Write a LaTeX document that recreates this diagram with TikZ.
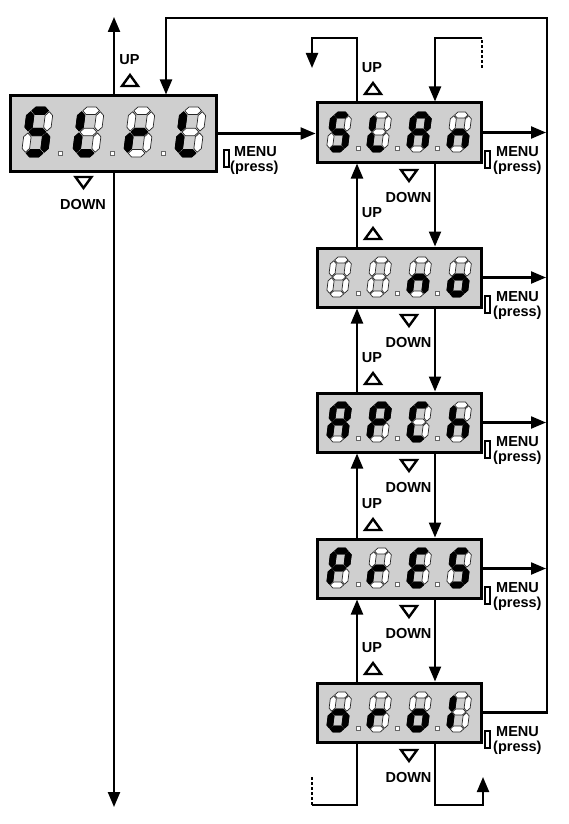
\documentclass[tikz,border=0pt]{standalone}
\usepackage{fontspec}
\newfontfamily\labfont{Liberation Sans}
\usetikzlibrary{arrows.meta}

\newcommand\hs[1]{(0.8,#1) -- (3.8,{#1+3}) -- (11.2,{#1+3}) -- (14.2,#1) -- (11.2,{#1-3}) -- (3.8,{#1-3}) -- cycle}
\newcommand\vs[3]{(#1,{#2+0.8}) -- ({#1+3},{#2+3.8}) -- ({#1+3},{#3-3.8}) -- (#1,{#3-0.8}) -- ({#1-3},{#3-3.8}) -- ({#1-3},{#2+3.8}) -- cycle}
\def\sga{\hs{34}}
\def\sgg{\hs{17}}
\def\sgd{\hs{0}}
\def\sgf{\vs{0}{17}{34}}
\def\sge{\vs{0}{0}{17}}
\def\sgb{\vs{15}{17}{34}}
\def\sgc{\vs{15}{0}{17}}
\def\sgx{}
\newcommand\sdigit[3]{%
  \edef\seglist{#3}%
  \begin{scope}[shift={#1}, x=1pt, y=1pt, scale=#2, xslant=0.13, shift={(3,3)}]
    \foreach \s in {a,b,c,d,e,f,g}{\path[segoff] \csname sg\s\endcsname;}
    \foreach \s in \seglist {\path[segon] \csname sg\s\endcsname;}
  \end{scope}}
\newcommand\uptri[2]{\draw[tri] ({#1-8},{#2+5}) -- ({#1+8},{#2+5}) -- ({#1},{#2-6}) -- cycle;}
\newcommand\dntri[2]{\draw[tri] ({#1-8},{#2-5}) -- ({#1+8},{#2-5}) -- ({#1},{#2+6}) -- cycle;}
\newcommand\dpt[2]{\draw[dp] ({#1-2},{#2-2}) rectangle ({#1+2},{#2+2});}

\tikzset{
  disp/.style={draw=black, line width=3pt, fill=black!19, inner sep=0pt, minimum width=164pt, minimum height=59pt},
  dispbig/.style={disp, minimum width=206pt, minimum height=75pt},
  conn/.style={line width=2.2pt, line join=miter},
  arr/.style={conn, -{Triangle[length=15pt,width=12pt]}},
  dashedconn/.style={conn, dash pattern=on 3pt off 2pt},
  segoff/.style={fill=white, draw=black!85, line width=0.7pt, line join=round},
  segon/.style={fill=black, draw=black, line width=0.7pt, line join=round},
  dp/.style={fill=white, draw=black!60, line width=0.6pt},
  lab/.style={font=\labfont\bfseries\fontsize{14.5}{14.5}\selectfont, inner sep=0pt},
  tri/.style={draw=black, line width=2.4pt, line join=miter},
  btn/.style={draw=black, line width=2pt, fill=white, minimum width=5pt, minimum height=17pt, inner sep=0pt},
}

\begin{document}
\begin{tikzpicture}[x=1pt, y=-1pt]
\useasboundingbox (0,0) rectangle (568,824);

% helper coordinates
\coordinate (upEnd) at (114,17);
\coordinate (dnEnd) at (114,807);
\coordinate (loopA) at (547,18);
\coordinate (loopB) at (166,18);
\coordinate (ux) at (357,0);
\coordinate (dx) at (435,0);
\coordinate (tl1) at (357,38);
\coordinate (tl2) at (312,38);
\coordinate (tl3) at (312,68);
\coordinate (tr1) at (482,68);
\coordinate (tr2) at (482,38);
\coordinate (tr3) at (435,38);
\coordinate (bl1) at (357,805);
\coordinate (bl2) at (312,805);
\coordinate (bl3) at (312,777);
\coordinate (br1) at (435,805);
\coordinate (br2) at (483,805);
\coordinate (br3) at (483,777);

% displays
\node[dispbig] (strt) at (113,133.5) {};
\node[disp] (stan) at (399,132.5) {};
\node[disp] (nono) at (399,277.5) {};
\node[disp] (apch) at (399,422.5) {};
\node[disp] (pres) at (399,568.5) {};
\node[disp] (orol) at (399,712.5) {};

% connectors
\draw[arr] (upEnd |- strt.north) -- (upEnd);
\draw[arr] (dnEnd |- strt.south) -- (dnEnd);
\draw[arr] (orol.east) -| (loopA) -- (loopB) -- (loopB |- strt.north);
\draw[arr] (strt.east) -- (strt.east -| stan.west);
\foreach \b in {stan,nono,apch,pres}{
  \draw[arr] (\b.east) -- ([xshift=-1pt]\b.east -| loopA);
}
\draw[arr] (ux |- nono.north) -- (ux |- stan.south);
\draw[arr] (ux |- apch.north) -- (ux |- nono.south);
\draw[arr] (ux |- pres.north) -- (ux |- apch.south);
\draw[arr] (ux |- orol.north) -- (ux |- pres.south);
\draw[arr] (dx |- stan.south) -- (dx |- nono.north);
\draw[arr] (dx |- nono.south) -- (dx |- apch.north);
\draw[arr] (dx |- apch.south) -- (dx |- pres.north);
\draw[arr] (dx |- pres.south) -- (dx |- orol.north);
\draw[arr] (ux |- stan.north) -- (tl1) -- (tl2) -- (tl3);
\draw[dashedconn] (tr1) -- (tr2);
\draw[arr] (tr2) -- (tr3) -- (dx |- stan.north);
\draw[conn] (ux |- orol.south) -- (bl1) -- (bl2);
\draw[dashedconn] (bl2) -- (bl3);
\draw[arr] (dx |- orol.south) -- (br1) -- (br2) -- (br3);

% Strt labels
\node[lab] (s-up) at (129.5,60) {UP};
\uptri{130}{81}
\dntri{83.5}{182}
\node[lab] (s-down) at (83,205) {DOWN};
\node[btn] (s-btn) at (226,158) {};
\node[lab, anchor=west] (s-menu) at (234,152) {MENU};
\node[lab, anchor=west] (s-press) at (230,168) {(press)};

% labels for right column
\foreach \b/\T in {stan/103, nono/248, apch/393, pres/539, orol/683}{
  \node[btn] (\b-btn) at (487.5,\T+56) {};
  \node[lab, anchor=west] (\b-menu) at (496,\T+49) {MENU};
  \node[lab, anchor=west] (\b-press) at (493,\T+65) {(press)};
  \node[lab] (\b-up) at (372,\T-35.5) {UP};
  \uptri{373}{\T-14}
  \dntri{409}{\T+72}
  \node[lab] (\b-down) at (408.5,\T+94.5) {DOWN};
}

% digits Strt
\sdigit{(21,157)}{1.25}{a,f,g,c,d}
\sdigit{(72,157)}{1.25}{f,e,d}
\sdigit{(123,157)}{1.25}{e,g}
\sdigit{(174,157)}{1.25}{f,e,d}
\dpt{60}{153}\dpt{112}{153}\dpt{163}{153}

% right digits
\foreach \T/\da/\db/\dc/\dd in {
  103/{a,f,g,c,d}/{f,e,d}/{a,b,c,e,f,g}/{c,e,g},
  248/{x}/{x}/{c,e,g}/{c,d,e,g},
  393/{a,b,c,e,f,g}/{a,b,e,f,g}/{a,d,e,f}/{c,e,f,g},
  539/{a,b,e,f,g}/{e,g}/{a,d,e,f,g}/{a,f,g,c,d},
  683/{c,d,e,g}/{e,g}/{c,d,e,g}/{f,e}}{
  \sdigit{(326,\T+49)}{1}{\da}
  \sdigit{(366,\T+49)}{1}{\db}
  \sdigit{(406,\T+49)}{1}{\dc}
  \sdigit{(446,\T+49)}{1}{\dd}
  \dpt{358}{\T+45}\dpt{397}{\T+45}\dpt{437}{\T+45}
}
\end{tikzpicture}
\end{document}
